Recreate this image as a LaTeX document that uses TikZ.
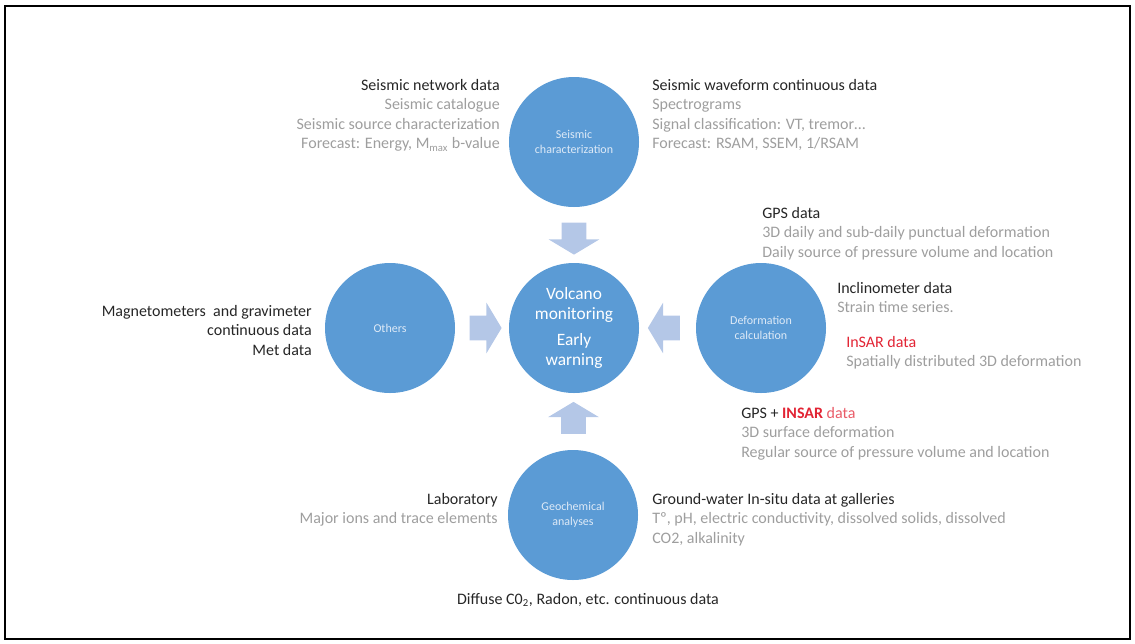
\documentclass[tikz,border=0pt]{standalone}
\usepackage{fontspec}
\setmainfont{Carlito}
\usetikzlibrary{shapes.arrows,calc}

\definecolor{bubblue}{RGB}{91,155,213}
\definecolor{arrblue}{RGB}{180,199,231}
\definecolor{subtxt}{RGB}{158,158,158}
\definecolor{darktxt}{RGB}{38,38,38}
\definecolor{redtxt}{RGB}{226,36,52}
\definecolor{bubtxt}{RGB}{222,234,247}

\begin{document}
\begin{tikzpicture}[x=0.75pt, y=-0.75pt,
  bub/.style={circle, fill=bubblue, minimum size=97.5pt, inner sep=0,
    align=center, text=bubtxt, font=\fontsize{9}{11}\selectfont},
  blockarr/.style={single arrow, fill=arrblue, draw=none, inner sep=9pt,
    minimum height=21pt, single arrow head extend=9.75pt,
    single arrow tip angle=118},
  info/.style={inner sep=0, text=subtxt, font=\fontsize{12}{14.6}\selectfont},
  head/.style={text=darktxt}]
  % page and frame
  \useasboundingbox (0,0) rectangle (1135,643);
  \draw[line width=1.1pt] (5,6) rectangle (1130,639);

  % Circles
  \node[bub, text=white, font=\fontsize{13}{15}\selectfont] (volc) at (574,328)
    {Volcano\\monitoring\\[4pt]Early\\warning};
  \node[bub] (seis) at (574,142) {Seismic\\characterization};
  \node[bub] (oth) at (390,328) {Others};
  \node[bub] (defo) at (761,328) {Deformation\\calculation};
  \node[bub] (geo) at (573,515) {Geochemical\\analyses};

  % Block arrows towards the centre
  \node[blockarr, shape border rotate=270] (arrS) at ($(seis)!0.5!(volc)$) {};
  \node[blockarr, shape border rotate=0] (arrO) at ($(oth)!0.5!(volc)$) {};
  \node[blockarr, shape border rotate=180] (arrD) at ($(defo)!0.5!(volc)$) {};
  \node[blockarr, shape border rotate=90] (arrG) at ($(geo)!0.5!(volc)$) {};

  % Seismic texts
  \node[info, anchor=north east, align=right] (seisL) at (500,79)
    {{\color{darktxt}Seismic network data}\\Seismic catalogue\\Seismic source characterization\\Forecast: Energy, M\textsubscript{max} b-value};
  \node[info, anchor=north west, align=left] (seisR) at (652,79)
    {{\color{darktxt}Seismic waveform continuous data}\\Spectrograms\\Signal classification: VT, tremor\ldots\\Forecast: RSAM, SSEM, 1/RSAM};

  % Deformation texts
  \node[info, anchor=north west, align=left] (gpsB) at (762,207)
    {{\color{darktxt}GPS data}\\3D daily and sub-daily punctual deformation\\Daily source of pressure volume and location};
  \node[info, anchor=north west, align=left] (inclB) at (837,282)
    {{\color{darktxt}Inclinometer data}\\Strain time series.};
  \node[info, anchor=north west, align=left] (insarB) at (846,336)
    {{\color{redtxt}InSAR data}\\Spatially distributed 3D deformation};
  \node[info, anchor=north west, align=left] (gpsinsarB) at (741,407)
    {{\color{darktxt}GPS + }{\color{redtxt}\bfseries INSAR} {\color{redtxt!75}data}\\3D surface deformation\\Regular source of pressure volume and location};

  % Others text
  \node[info, head, anchor=north east, align=right] (othB) at (312,305)
    {Magnetometers~ and gravimeter\\continuous data\\Met data};

  % Geochemical texts
  \node[info, anchor=north east, align=right] (labB) at (498,493)
    {{\color{darktxt}Laboratory}\\Major ions and trace elements};
  \node[info, anchor=north west, align=left] (gwB) at (652,493)
    {{\color{darktxt}Ground-water In-situ data at galleries}\\Tº, pH, electric conductivity, dissolved solids, dissolved\\CO2, alkalinity};
  \node[info, head, anchor=north] (diffB) at (588,593)
    {Diffuse C0\textsubscript{2}, Radon, etc. continuous data};
\end{tikzpicture}
\end{document}
